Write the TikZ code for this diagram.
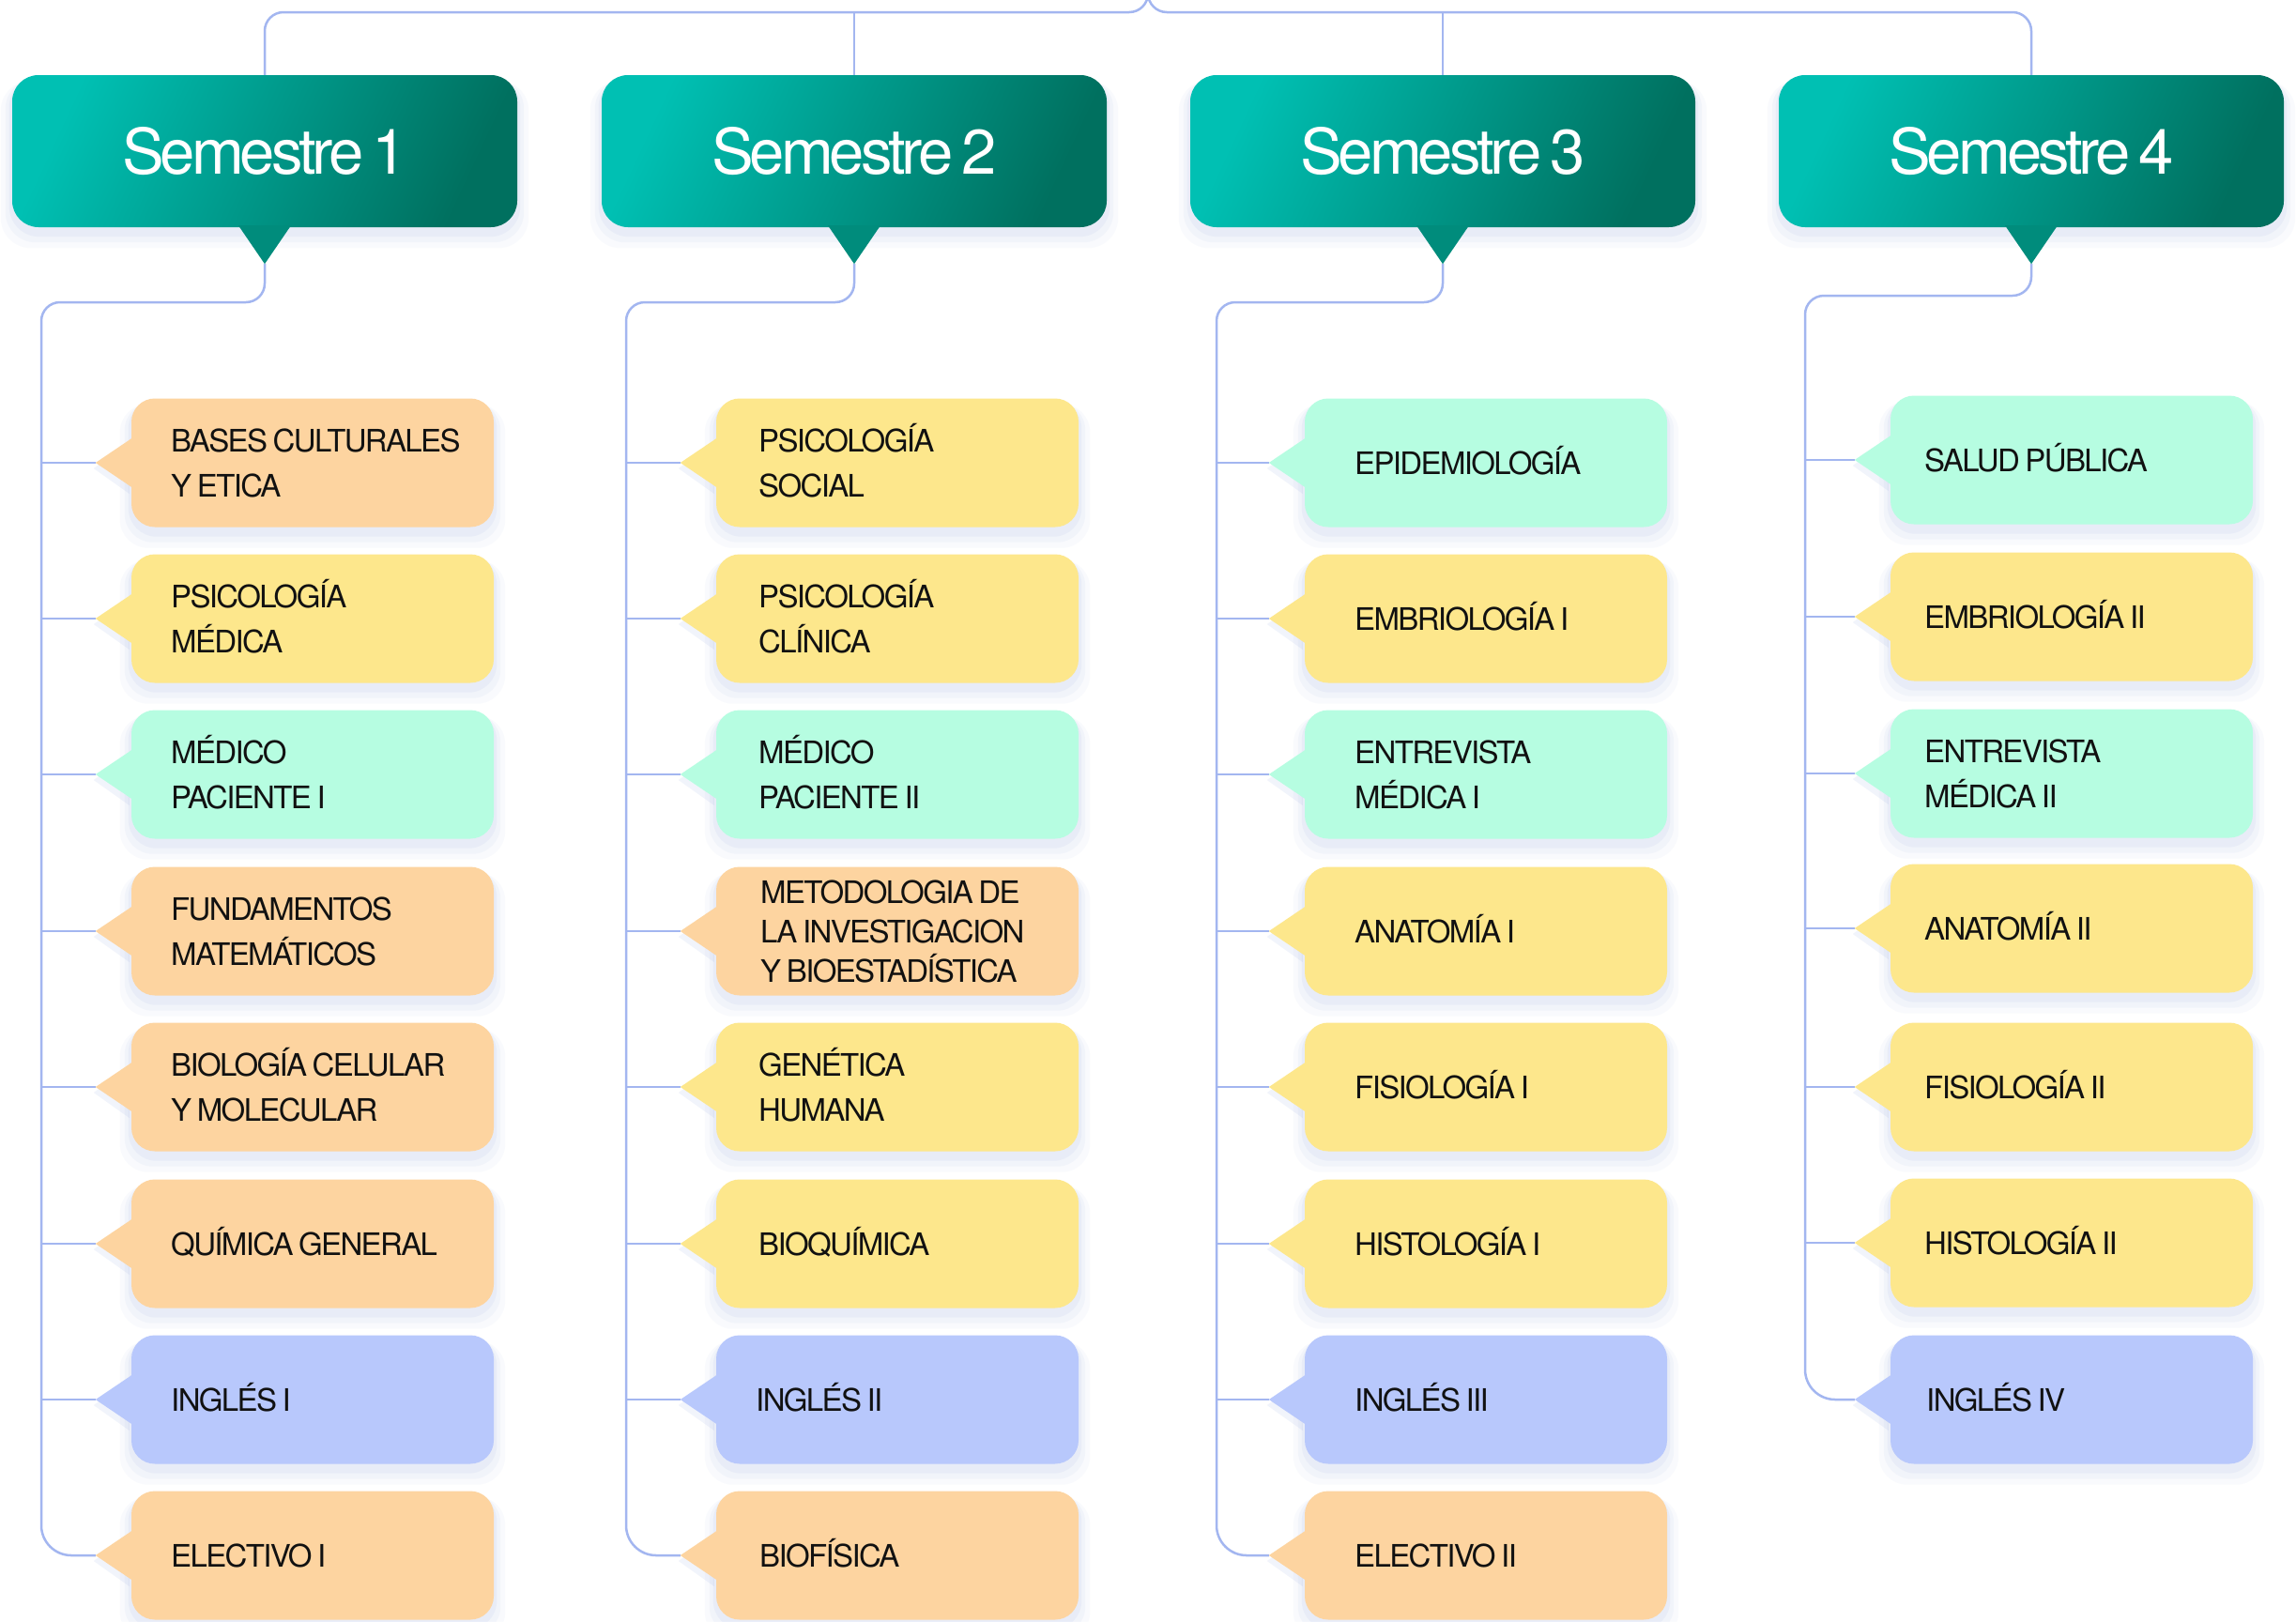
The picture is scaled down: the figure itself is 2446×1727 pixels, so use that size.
\documentclass[tikz,border=0pt]{standalone}
\usepackage{fontspec}
\setmainfont{TeX Gyre Heros}
\newfontfamily\itemff{TeX Gyre Heros}[LetterSpace=-5,WordSpace=0.75]
\newfontfamily\headff{TeX Gyre Heros}[LetterSpace=-6,WordSpace=0.6]
\usetikzlibrary{calc}
\pgfdeclarelayer{bg}
\pgfdeclarelayer{shd}
\pgfsetlayers{bg,shd,main}
\definecolor{peach}{HTML}{FDD4A0}
\definecolor{yel}{HTML}{FDE78C}
\definecolor{mint}{HTML}{B6FDE1}
\definecolor{lav}{HTML}{B8C8FC}
\definecolor{connc}{HTML}{A3B6F0}
\definecolor{shc}{HTML}{7F95D8}
\definecolor{tealA}{HTML}{00C0B3}
\definecolor{tealB}{HTML}{00705F}
\definecolor{tealM}{HTML}{008C7C}
\definecolor{ink}{HTML}{111111}
\tikzset{
  conn/.style={draw=connc, line width=2.5pt},
  itembox/.style={rectangle, rounded corners=25pt, minimum width=386pt, minimum height=137pt, inner sep=0pt, draw=none},
  itemtext/.style={anchor=west, inner sep=0pt, text=ink, font=\itemff\fontsize{33pt}{48pt}\selectfont},
  semhead/.style={rectangle, rounded corners=28pt, minimum width=538pt, minimum height=162pt, inner sep=0pt,
    top color=tealA, bottom color=tealB, shading angle=65, text=white, font=\headff\fontsize{67pt}{80pt}\selectfont},
}
\newcommand\mycallout[8]{%
  \node[itembox, fill=#4] (#1) at ({#2+193},#3) {};
  \fill[#4] ([xshift=2pt,yshift=27pt]#1.west) -- ([xshift=-38pt]#1.west) coordinate (#1-tip) -- ([xshift=2pt,yshift=-27pt]#1.west) -- cycle;
  \node[itemtext] (#1-t) at ({#2+#5},#3) {\raisebox{0pt}[24pt][#6]{\vtop{\baselineskip=#7\lineskiplimit=-100pt\relax #8}}};
  \begin{pgfonlayer}{shd}
    \foreach \e/\a/\b/\o in {12/6/22/0.04,7/4/16/0.06,3/2/10/0.08}{%
      \fill[shc, opacity=\o, rounded corners=30pt] ([xshift=-\e pt,yshift=-\a pt]#1.north west) rectangle ([xshift=\e pt,yshift=-\b pt]#1.south east);}
    \fill[shc, opacity=0.10] ([xshift=-2pt,yshift=21pt]#1.west) -- ([xshift=-40pt,yshift=-6pt]#1.west) -- ([xshift=-2pt,yshift=-33pt]#1.west) -- cycle;
  \end{pgfonlayer}
}
\newcommand\myhead[3]{%
  \node[semhead] (#1) at (#2,161) {#3};
  \fill[tealM] ([xshift=-28pt,yshift=2pt]#1.south) -- ([yshift=-39pt]#1.south) coordinate (#1-tip) -- ([xshift=28pt,yshift=2pt]#1.south) -- cycle;
  \begin{pgfonlayer}{shd}
    \foreach \e/\a/\b/\o in {12/6/22/0.04,7/4/16/0.06,3/2/10/0.08}{%
      \fill[shc, opacity=\o, rounded corners=32pt] ([xshift=-\e pt,yshift=-\a pt]#1.north west) rectangle ([xshift=\e pt,yshift=-\b pt]#1.south east);}
  \end{pgfonlayer}
}
\begin{document}
\begin{tikzpicture}[x=1pt, y=-1pt]
\useasboundingbox (0,0) rectangle (2446,1727);
\begin{pgfonlayer}{bg}
  \fill[white] (0,0) rectangle (2446,1727);
\end{pgfonlayer}

% headers
\myhead{h1}{282}{Semestre 1}
\myhead{h2}{910}{Semestre 2}
\myhead{h3}{1537}{Semestre 3}
\myhead{h4}{2164}{Semestre 4}

% column 1
\mycallout{a1}{140}{493}{peach}{42}{48pt}{48pt}{\hbox{BASES CULTURALES}\hbox{Y ETICA}}
\mycallout{a2}{140}{659}{yel}{42}{48pt}{48pt}{\hbox{PSICOLOGÍA}\hbox{MÉDICA}}
\mycallout{a3}{140}{825}{mint}{42}{48pt}{48pt}{\hbox{MÉDICO}\hbox{PACIENTE I}}
\mycallout{a4}{140}{992}{peach}{42}{48pt}{48pt}{\hbox{FUNDAMENTOS}\hbox{MATEMÁTICOS}}
\mycallout{a5}{140}{1158}{peach}{42}{48pt}{48pt}{\hbox{BIOLOGÍA CELULAR}\hbox{Y MOLECULAR}}
\mycallout{a6}{140}{1325}{peach}{42}{0pt}{48pt}{\hbox{QUÍMICA GENERAL}}
\mycallout{a7}{140}{1491}{lav}{42}{0pt}{48pt}{\hbox{INGLÉS I}}
\mycallout{a8}{140}{1657}{peach}{42}{0pt}{48pt}{\hbox{ELECTIVO I}}

% column 2
\mycallout{b1}{763}{493}{yel}{45}{48pt}{48pt}{\hbox{PSICOLOGÍA}\hbox{SOCIAL}}
\mycallout{b2}{763}{659}{yel}{45}{48pt}{48pt}{\hbox{PSICOLOGÍA}\hbox{CLÍNICA}}
\mycallout{b3}{763}{825}{mint}{45}{48pt}{48pt}{\hbox{MÉDICO}\hbox{PACIENTE II}}
\mycallout{b4}{763}{992}{peach}{47}{84pt}{42pt}{\hbox{METODOLOGIA DE}\hbox{LA INVESTIGACION}\hbox{Y BIOESTADÍSTICA}}
\mycallout{b5}{763}{1158}{yel}{45}{48pt}{48pt}{\hbox{GENÉTICA}\hbox{HUMANA}}
\mycallout{b6}{763}{1325}{yel}{45}{0pt}{48pt}{\hbox{BIOQUÍMICA}}
\mycallout{b7}{763}{1491}{lav}{42}{0pt}{48pt}{\hbox{INGLÉS II}}
\mycallout{b8}{763}{1657}{peach}{46}{0pt}{48pt}{\hbox{BIOFÍSICA}}

% column 3
\mycallout{c1}{1390}{493}{mint}{53}{0pt}{48pt}{\hbox{EPIDEMIOLOGÍA}}
\mycallout{c2}{1390}{659}{yel}{53}{0pt}{48pt}{\hbox{EMBRIOLOGÍA I}}
\mycallout{c3}{1390}{825}{mint}{53}{48pt}{48pt}{\hbox{ENTREVISTA}\hbox{MÉDICA I}}
\mycallout{c4}{1390}{992}{yel}{53}{0pt}{48pt}{\hbox{ANATOMÍA I}}
\mycallout{c5}{1390}{1158}{yel}{53}{0pt}{48pt}{\hbox{FISIOLOGÍA I}}
\mycallout{c6}{1390}{1325}{yel}{53}{0pt}{48pt}{\hbox{HISTOLOGÍA I}}
\mycallout{c7}{1390}{1491}{lav}{53}{0pt}{48pt}{\hbox{INGLÉS III}}
\mycallout{c8}{1390}{1657}{peach}{53}{0pt}{48pt}{\hbox{ELECTIVO II}}

% column 4
\mycallout{d1}{2014}{490}{mint}{36}{0pt}{48pt}{\hbox{SALUD PÚBLICA}}
\mycallout{d2}{2014}{657}{yel}{36}{0pt}{48pt}{\hbox{EMBRIOLOGÍA II}}
\mycallout{d3}{2014}{824}{mint}{36}{48pt}{48pt}{\hbox{ENTREVISTA}\hbox{MÉDICA II}}
\mycallout{d4}{2014}{989}{yel}{36}{0pt}{48pt}{\hbox{ANATOMÍA II}}
\mycallout{d5}{2014}{1158}{yel}{36}{0pt}{48pt}{\hbox{FISIOLOGÍA II}}
\mycallout{d6}{2014}{1324}{yel}{36}{0pt}{48pt}{\hbox{HISTOLOGÍA II}}
\mycallout{d7}{2014}{1491}{lav}{38}{0pt}{48pt}{\hbox{INGLÉS IV}}

% connectors
\begin{pgfonlayer}{bg}
  \coordinate (tj) at (1223,13);
  \coordinate (root) at (1223,-40);
  \draw[conn, rounded corners=20pt] (h1.north) |- (tj) -- (root);
  \draw[conn, rounded corners=20pt] (h4.north) |- (tj) -- (root);
  \draw[conn] (h2.north) -- (h2.north |- tj);
  \draw[conn] (h3.north) -- (h3.north |- tj);

  \coordinate (L1) at (44,322);
  \coordinate (L2) at (667,322);
  \coordinate (L3) at (1296,322);
  \coordinate (L4) at (1923,315);
  \draw[conn] (h1-tip) [rounded corners=20pt] |- (L1) [rounded corners=32pt] |- (a8-tip);
  \draw[conn] (h2-tip) [rounded corners=20pt] |- (L2) [rounded corners=32pt] |- (b8-tip);
  \draw[conn] (h3-tip) [rounded corners=20pt] |- (L3) [rounded corners=32pt] |- (c8-tip);
  \draw[conn] (h4-tip) [rounded corners=20pt] |- (L4) [rounded corners=32pt] |- (d7-tip);
  \foreach \k in {1,...,7} {
    \draw[conn] (L1 |- a\k-tip) -- (a\k-tip);
    \draw[conn] (L2 |- b\k-tip) -- (b\k-tip);
    \draw[conn] (L3 |- c\k-tip) -- (c\k-tip);
  }
  \foreach \k in {1,...,6} {
    \draw[conn] (L4 |- d\k-tip) -- (d\k-tip);
  }
\end{pgfonlayer}
\end{tikzpicture}
\end{document}
